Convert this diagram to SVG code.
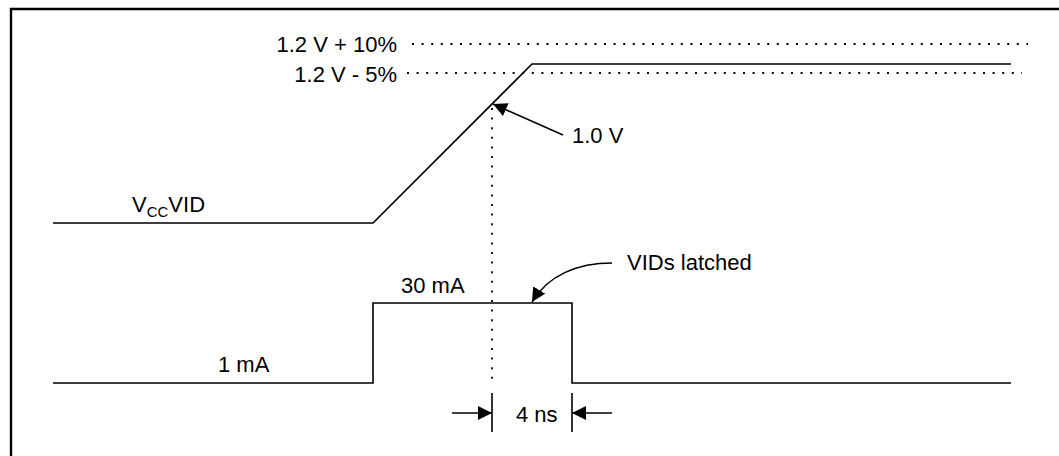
<svg xmlns="http://www.w3.org/2000/svg" width="1059" height="456" viewBox="0 0 1059 456">
<style>
.t{font-family:"Liberation Sans",Arial,sans-serif;font-size:22px;fill:#000}
.s{font-family:"Liberation Sans",Arial,sans-serif;font-size:15px;fill:#000}
.w{fill:none;stroke:#000;stroke-width:1.6}
.d{fill:none;stroke:#000;stroke-width:1.8;stroke-dasharray:2 7.6}
.a{fill:none;stroke:#000;stroke-width:1.6}
</style>
<defs>
<marker id="ah2" viewBox="0 0 14 14" refX="14" refY="7" markerWidth="14" markerHeight="14" markerUnits="userSpaceOnUse" orient="auto">
<path d="M0,0 L14,7 L0,14 Z" fill="#000"/>
</marker>
</defs>
<rect width="1059" height="456" fill="#fff"/>
<path d="M11,456 V9 H1059" fill="none" stroke="#000" stroke-width="2.4"/>
<g id="connectors">
<path class="d" d="M412,44 H1028"/>
<path class="d" d="M407,73 H1022"/>
<path class="d" d="M492,108 V384"/>
<path class="w" d="M53,223 H373 L532,64 H1011"/>
<path class="w" d="M53,383 H373 V303 H572 V383 H1011"/>
<path class="w" d="M492,393 V432"/>
<path class="w" d="M572,393 V432"/>
<path class="a" d="M452,413 H492" marker-end="url(#ah2)"/>
<path class="a" d="M612,413 H572" marker-end="url(#ah2)"/>
<path class="a" d="M563,135 L493,104" marker-end="url(#ah2)"/>
<path class="a" d="M612,263 C578,263 548,275 532,302" marker-end="url(#ah2)"/>
</g>
<g id="labels">
<text class="t" x="397" y="52" text-anchor="end">1.2 V + 10%</text>
<text class="t" x="397" y="82" text-anchor="end">1.2 V - 5%</text>
<text class="t" x="572" y="143">1.0 V</text>
<text class="t" x="132" y="212">V<tspan class="s" dy="5" font-size="15">CC</tspan><tspan dy="-5">VID</tspan></text>
<text class="t" x="401" y="293">30 mA</text>
<text class="t" x="627" y="270">VIDs latched</text>
<text class="t" x="218" y="372">1 mA</text>
<text class="t" x="516" y="422">4 ns</text>
</g>
</svg>
